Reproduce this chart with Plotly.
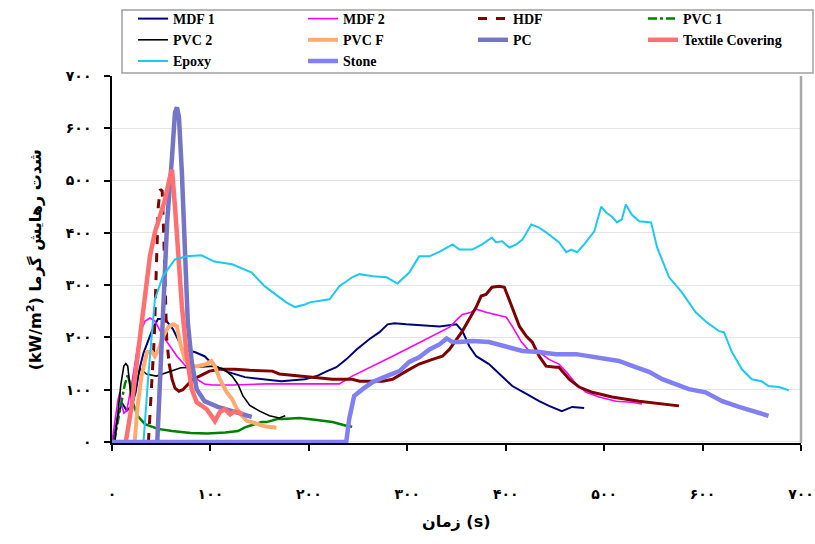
import plotly.graph_objects as go

# Heat release rate curves (time in s, HRR in kW/m2)
mdf1_t = [0, 3, 6, 10, 15, 20, 24, 28, 32, 36.5, 41, 46.7, 53.8, 61.9, 72, 84, 94, 104.5, 117.6, 135, 152, 172, 196,
          208, 218, 228, 238, 248.5, 261.7, 271.8, 280, 287, 299, 319.5, 332.7, 350, 356, 363, 370, 383, 396.5,
          406.7, 421, 434, 444, 457, 467.5, 479.7]
mdf1_q = [0, 20, 50, 75, 60, 69, 95, 140, 170, 191, 215, 235, 235, 216, 177, 172, 164, 145, 134, 124, 120, 116, 120,
          126, 135, 143, 158, 177, 197, 210, 225, 227, 225, 223, 221, 225, 212, 183, 164, 149, 126,
          107, 92, 78, 69, 59, 67, 65]

mdf2_t = [0, 2, 4, 6, 8, 10, 12, 15, 20, 26, 30, 33.5, 38.5, 43.6, 52, 59, 66, 76, 86, 94, 102, 122.7, 157, 190.7,
          231, 244, 265, 285, 305, 325.6, 343, 351, 356, 365, 370, 380, 393.5, 400.6, 406.7, 416, 424, 434, 444,
          454, 461.5, 471.6, 481.7, 495, 512, 528, 538.5]
mdf2_q = [0, 30, 60, 80, 95, 70, 55, 60, 110, 183, 215, 231, 237, 231, 202, 183, 164, 143, 120, 111, 109, 109, 111, 111,
          111, 126, 145, 164, 183, 202, 219.5, 235, 244, 248, 254, 248, 242, 238.5, 221, 191, 174, 172, 158,
          149, 134, 111, 95, 86, 78, 76, 72.5]

hdf_t = [37, 40, 43, 45, 47, 49, 51, 52.5, 54, 55.5, 58, 61, 64, 68, 72, 77, 82, 89, 99, 109.5, 125, 140, 163, 170,
         190.7, 208, 224, 244, 251.5, 275, 285, 299, 312, 325.6, 335.7, 343, 350, 356, 363, 370, 375, 380, 386,
         393.5, 398.6, 405.7, 414, 421, 427, 434, 441, 451, 454, 464.5, 474.6, 488, 508, 535.5, 556, 576]
hdf_q = [0, 90, 200, 330, 450, 483, 480, 400, 300, 200, 150, 120, 103, 97, 100, 110, 120, 126, 135.5, 139, 139, 137,
         135.5, 130, 126, 124, 120, 120, 116, 116, 120, 135.5, 149, 158, 164, 177.5, 196.5, 212, 235, 258, 279,
         282, 296, 298, 296, 260, 221, 202, 191, 164, 145, 143, 143, 120, 105, 95, 86, 78, 74, 69]
HDF_DASH_END = 10  # steep ignition spike is drawn dashed

pvc1_t = [2, 6, 10, 13, 16, 18, 21, 26, 33.5, 46.7, 61, 80, 97, 115, 128, 135, 140, 152, 157, 168, 173, 190.7, 208,
          224, 238, 244]
pvc1_q = [0, 40, 80, 110, 128, 115, 76, 50, 34, 25, 21, 17, 16, 18, 21, 28, 31, 38, 38, 44, 44, 46, 42, 38, 31, 29]
PVC1_DASH_END = 4

pvc2_t = [3, 6, 9, 12, 14, 16, 18, 20, 22, 25, 29, 35, 45, 57, 70, 85, 104, 114, 122, 128, 133, 140, 150, 160, 170, 176]
pvc2_q = [0, 50, 110, 145, 150, 145, 110, 75, 80, 120, 140, 130, 126, 133, 142, 143, 145, 139, 126, 110, 88, 70, 59,
          50, 46, 50]

pvcf_t = [23, 26, 30, 35.5, 40.6, 43.6, 47, 52, 57, 62, 66, 69, 74, 81, 87, 96, 101, 104.5, 109.5, 116.6, 122, 127,
          132, 137, 142, 150, 155, 167]
pvcf_q = [0, 69, 126, 172, 172, 164, 175, 202, 219.5, 225, 221, 191, 158, 145, 145, 149, 155, 145, 120, 95, 82, 63,
          50, 40, 38, 32, 30, 27]

pc_t = [46, 51, 56, 61, 64, 66, 68, 71, 74, 77, 81, 86, 94, 107.5, 122, 135, 142]
pc_q = [0, 229, 420, 546, 630, 640, 622, 515, 355, 229, 153, 101, 78, 67, 59, 53, 48]

tex_t = [14, 20, 26, 33.5, 38.5, 43.6, 48.7, 53.8, 59, 61, 64, 67, 71, 76, 81, 86, 91, 96, 101, 104.5, 109.5, 114.6,
         120, 124, 128, 133]
tex_q = [0, 69, 164, 279, 355, 401, 431, 463, 508, 521, 450, 355, 260, 164, 101, 76, 69, 63, 50, 40, 57, 63, 53, 58,
         57, 53]

epoxy_t = [32, 37, 43.6, 51.7, 63.9, 76, 91, 104, 122, 142, 155, 168, 177, 186, 196, 201, 221, 231, 244, 251.5, 265,
           279, 290, 302, 312, 322.5, 333, 346, 353, 366, 376, 386, 390, 396.5, 403.6, 410.8, 417, 426, 434, 441,
           454, 461.5, 466.5, 472.6, 479.7, 490, 497, 502, 508, 513, 518, 522, 528, 535.5, 542.6, 547.7, 553.8,
           566, 579, 593, 603, 616.6, 621.7, 629.8, 640, 650, 660, 667, 677.5, 687.6]
epoxy_q = [0, 130, 273, 317, 349, 355, 357, 345, 340, 324, 298, 279, 267, 258, 263, 267, 273, 298, 315, 321, 317,
           315, 303, 324, 355, 355, 364, 378, 368, 368, 378, 391, 382, 384, 372, 378, 387, 416, 410, 401,
           382, 363, 368, 363, 378, 403, 450, 439, 431, 420, 426, 454, 435, 422, 420, 420, 372,
           315, 286, 248, 231, 212, 210, 172, 139, 120, 116, 107, 105, 99]

stone_t = [0, 238, 241, 246, 254.6, 264.7, 279, 292, 302, 312, 322.5, 333, 340, 346, 353, 366, 383, 400.6, 417, 434,
           451, 471.6, 492, 515, 532, 545.6, 559, 573, 586, 603, 620, 637, 654, 667]
stone_q = [0, 0, 44, 88, 101, 114.5, 126, 135.5, 153, 162, 177, 187, 198, 191, 191, 193, 191, 183, 174, 172,
           168, 168, 162, 155, 143, 134, 120, 111, 101, 95, 78, 67, 57, 50]

x_ticks = [0, 100, 200, 300, 400, 500, 600, 700]
y_ticks = [0, 100, 200, 300, 400, 500, 600, 700]
fa_digits = str.maketrans("0123456789", "۰۱۲۳۴۵۶۷۸۹")
x_ticktext = [str(v).translate(fa_digits) for v in x_ticks]
y_ticktext = [str(v).translate(fa_digits) for v in y_ticks]

# legend laid out as four columns, one plotly legend per column
W, H = 815, 544
L, R, T, B = 112, 14, 76, 101
PW, PH = W - L - R, H - T - B


def px_to_paper(px, py):
    return (px - L) / PW, (H - B - py) / PH


fig = go.Figure()


def add(name, t, q, color, width, legend, dash="solid", showlegend=True):
    fig.add_trace(go.Scatter(x=t, y=q, mode="lines", name=name, legendgroup=name, showlegend=showlegend,
                             legend=legend, line=dict(color=color, width=width, dash=dash)))


add("MDF 1", mdf1_t, mdf1_q, "#000080", 2, "legend")
add("MDF 2", mdf2_t, mdf2_q, "#FF00FF", 1.6, "legend2")
add("HDF", hdf_t[:HDF_DASH_END + 1], hdf_q[:HDF_DASH_END + 1], "#800000", 3, "legend3", dash="dash")
add("HDF", hdf_t[HDF_DASH_END:], hdf_q[HDF_DASH_END:], "#800000", 3, "legend3", showlegend=False)
add("PVC 1", pvc1_t[:PVC1_DASH_END + 1], pvc1_q[:PVC1_DASH_END + 1], "#008000", 2.5, "legend4", dash="dashdot")
add("PVC 1", pvc1_t[PVC1_DASH_END:], pvc1_q[PVC1_DASH_END:], "#008000", 2.5, "legend4", showlegend=False)
add("PVC 2", pvc2_t, pvc2_q, "#000000", 1.6, "legend")
add("PVC F", pvcf_t, pvcf_q, "#FFAA70", 4, "legend2")
add("PC", pc_t, pc_q, "#7474C8", 4.5, "legend3")
add("Textile Covering", tex_t, tex_q, "#FF7070", 4.5, "legend4")
add("Epoxy", epoxy_t, epoxy_q, "#1CC8F4", 2, "legend")
add("Stone", stone_t, stone_q, "#8080F4", 4.5, "legend2")

# right frame edge of the plot area
fig.add_shape(type="line", xref="paper", yref="paper", x0=1, x1=1, y0=0, y1=1,
              line=dict(color="#A8A8A8", width=2.5))

# common frame around the legend columns
bx0, by0 = px_to_paper(122, 73)
bx1, by1 = px_to_paper(813, 10)
fig.add_shape(type="rect", xref="paper", yref="paper", x0=bx0, y0=by0, x1=bx1, y1=by1,
              line=dict(color="#A0A0A0", width=1.5), fillcolor="rgba(0,0,0,0)")

serif = "Liberation Serif, DejaVu Serif, serif"
fa_font = "DejaVu Sans, sans-serif"

fig.add_annotation(text="زمان (s)", xref="paper", yref="paper", x=0.5, y=-0.215,
                   xanchor="center", yanchor="middle", showarrow=False,
                   font=dict(family=fa_font, size=16, color="black", weight="bold"))
fig.add_annotation(text="(kW/m<sup>2</sup>) شدت رهایش گرما", xref="paper", yref="paper", x=-0.112, y=0.5,
                   xanchor="center", yanchor="middle", textangle=-90, showarrow=False,
                   font=dict(family=fa_font, size=16, color="black", weight="bold"))

legend_style = dict(orientation="v", xanchor="left", yanchor="top", tracegroupgap=0,
                    borderwidth=0, bgcolor="rgba(0,0,0,0)",
                    font=dict(family=serif, size=14, color="black", weight="bold"))
legend_cols = [133, 303, 473, 643]
legend_top = 3
layouts = {}
for i, cx in enumerate(legend_cols):
    lx, ly = px_to_paper(cx, legend_top)
    key = "legend" if i == 0 else f"legend{i + 1}"
    layouts[key] = dict(x=lx, y=ly, **legend_style)

fig.update_layout(
    width=W, height=H,
    margin=dict(l=L, r=R, t=T, b=B, autoexpand=False),
    paper_bgcolor="white", plot_bgcolor="white",
    font=dict(family=serif, color="black"),
    xaxis=dict(range=[0, 700], tickvals=x_ticks, ticktext=x_ticktext, showgrid=False, zeroline=False,
               showline=True, linecolor="black", linewidth=1.5, ticks="outside", ticklen=6, tickwidth=1.5,
               tickcolor="black", ticklabelstandoff=31,
               tickfont=dict(family=fa_font, size=14, color="black", weight="bold")),
    yaxis=dict(range=[-2, 700], tickvals=y_ticks, ticktext=y_ticktext, showgrid=True, gridcolor="#E4E4E4",
               gridwidth=1, zeroline=False, showline=True, linecolor="black", linewidth=1.5,
               ticks="outside", ticklen=6, tickwidth=1.5, tickcolor="black", ticklabelstandoff=10,
               tickfont=dict(family=fa_font, size=14, color="black", weight="bold")),
    **layouts,
)

fig.write_html("out.html")
